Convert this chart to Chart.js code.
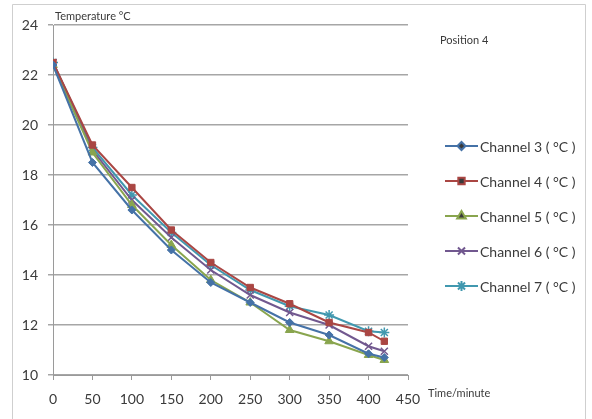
<!DOCTYPE html>
<html>
<head>
<meta charset="utf-8">
<script src="https://cdn.jsdelivr.net/npm/chart.js@4/dist/chart.umd.min.js"></script>
<style>
  html, body { margin: 0; padding: 0; background: #fff; }
  #wrap { width: 592px; height: 419px; position: relative; }
</style>
</head>
<body>
<div id="wrap"><canvas id="grafico" width="592" height="419"></canvas></div>
<script>
// time in minutes
const minutos = [0, 50, 100, 150, 200, 250, 300, 350, 400, 420];
const canal3 = [22.4, 18.5, 16.6, 15.0, 13.7, 12.9, 12.1, 11.6, 10.85, 10.7];
const canal4 = [22.5, 19.2, 17.5, 15.8, 14.5, 13.5, 12.85, 12.1, 11.7, 11.35];
const canal5 = [22.4, 18.9, 16.8, 15.2, 13.8, 12.9, 11.8, 11.35, 10.8, 10.6];
const canal6 = [22.5, 19.0, 17.0, 15.5, 14.2, 13.2, 12.5, 12.0, 11.15, 10.95];
const canal7 = [22.5, 19.1, 17.2, 15.7, 14.4, 13.4, 12.75, 12.4, 11.75, 11.7];
const nomes = ["Channel 3 ( °C )", "Channel 4 ( °C )", "Channel 5 ( °C )", "Channel 6 ( °C )", "Channel 7 ( °C )"];
const yTicks = [10, 12, 14, 16, 18, 20, 22, 24];
const xTicks = [0, 50, 100, 150, 200, 250, 300, 350, 400, 450];

const cores   = ["#4572A7", "#AA4643", "#89A54E", "#71588F", "#4198AF"];
const estilos = ["rectRot", "rect", "triangle", "crossRot", "star"];
const raios   = [4, 4.5, 5, 5, 5];
const series  = [canal3, canal4, canal5, canal6, canal7];

const FONTE = "Lato, 'Open Sans', sans-serif";
const TEXTO = "#3a3a3a";

const extras = {
  id: "extras",
  afterDraw(chart) {
    const c = chart.ctx;
    c.save();
    // outer frame
    c.strokeStyle = "#cfcfcf";
    c.lineWidth = 1;
    c.beginPath();
    c.moveTo(12.5, 419);
    c.lineTo(12.5, 4.5);
    c.lineTo(585.5, 4.5);
    c.lineTo(585.5, 419);
    c.stroke();

    c.fillStyle = TEXTO;
    c.textBaseline = "middle";
    c.textAlign = "left";
    c.font = "11px " + FONTE;
    c.fillText("Temperature °C", 55, 16);
    c.fillText("Time/minute", 428, 393);
    c.fillText("Position 4", 440, 40);

    // legend
    c.font = "14px " + FONTE;
    chart.data.datasets.forEach((ds, i) => {
      const y = 146 + i * 35;
      c.strokeStyle = ds.borderColor;
      c.lineWidth = 2;
      c.beginPath();
      c.moveTo(445, y);
      c.lineTo(478, y);
      c.stroke();
      Chart.helpers.drawPoint(c, {
        pointStyle: ds.pointStyle,
        radius: ds.pointRadius,
        rotation: 0,
        borderWidth: ds.pointStyle === "crossRot" || ds.pointStyle === "star" ? 1.5 : 1,
      }, 461.5, y);
      c.fillStyle = TEXTO;
      c.fillText(ds.label, 480, y + 1);
    });
    c.restore();
  },
};

new Chart(document.getElementById("grafico").getContext("2d"), {
  type: "line",
  data: {
    datasets: series.map((s, i) => ({
      label: nomes[i],
      data: minutos.map((m, k) => ({ x: m, y: s[k] })),
      borderColor: cores[i],
      backgroundColor: cores[i],
      pointBackgroundColor: cores[i],
      pointBorderColor: cores[i],
      borderWidth: 2,
      pointStyle: estilos[i],
      pointRadius: raios[i],
      pointBorderWidth: estilos[i] === "crossRot" || estilos[i] === "star" ? 1.5 : 1,
      tension: 0,
    })),
  },
  options: {
    responsive: false,
    animation: false,
    events: [],
    layout: { padding: { top: 25, right: 184, bottom: 0, left: 0 } },
    plugins: { legend: { display: false }, tooltip: { enabled: false } },
    scales: {
      x: {
        type: "linear",
        min: 0,
        max: 450,
        afterFit: (s) => { s.height = 44; },
        afterBuildTicks: (s) => { s.ticks = xTicks.map((v) => ({ value: v })); },
        border: { display: true, color: "#9a9a9a", width: 1 },
        grid: { drawOnChartArea: false, drawTicks: true, tickLength: 5, color: "#9a9a9a" },
        ticks: { color: TEXTO, font: { family: FONTE, size: 14 }, padding: 11, maxRotation: 0 },
      },
      y: {
        min: 10,
        max: 24,
        afterFit: (s) => { s.width = 53; },
        afterBuildTicks: (s) => { s.ticks = yTicks.map((v) => ({ value: v })); },
        border: { display: true, color: "#9a9a9a", width: 1 },
        grid: { color: "#a6a6a6", lineWidth: 1.5, drawTicks: true, tickLength: 5 },
        ticks: { color: TEXTO, font: { family: FONTE, size: 14 }, padding: 10 },
      },
    },
  },
  plugins: [extras],
});
</script>
</body>
</html>
